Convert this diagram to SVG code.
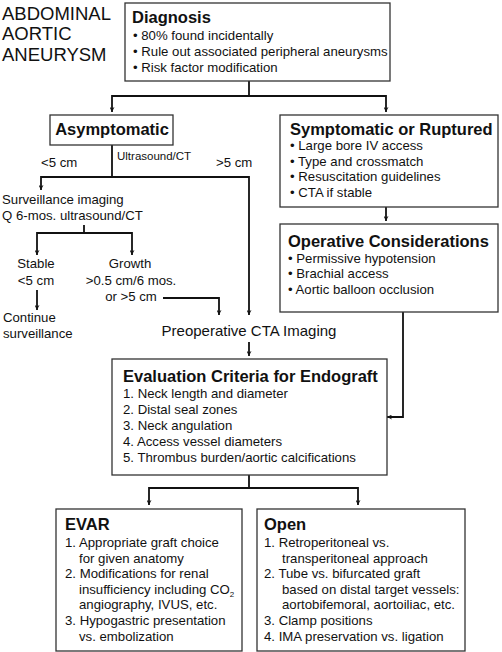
<svg xmlns="http://www.w3.org/2000/svg" width="502" height="652" viewBox="0 0 502 652">
<defs>
<marker id="ah" viewBox="0 0 10 10" refX="10" refY="5" markerWidth="5" markerHeight="5" orient="auto" markerUnits="userSpaceOnUse">
<path d="M0,0 L10,5 L0,10 L3,5 z" fill="#111"/>
</marker>
<style>
text{font-family:"Liberation Sans",Arial,sans-serif;fill:#111}
.box{fill:#fff;stroke:#333;stroke-width:1.3}
.t{font-weight:bold;font-size:16.5px}
.b{font-size:13.2px}
.s{font-size:11.5px}
.m{font-size:13.2px}
.big{font-size:18.5px}
.c{stroke:#111;stroke-width:1.8;fill:none}
.ca{stroke:#111;stroke-width:1.8;fill:none;marker-end:url(#ah)}
</style>
</defs>
<rect width="502" height="652" fill="#fff"/>
<g id="title">
<text class="big" x="2" y="20">ABDOMINAL</text>
<text class="big" x="2" y="40">AORTIC</text>
<text class="big" x="2" y="61">ANEURYSM</text>
</g>
<g id="connectors">
<path class="c" d="M249,81 V96 M112,96 H386"/>
<path class="ca" d="M112,95 V112"/>
<path class="ca" d="M386,95 V112"/>
<path class="ca" d="M386,207 V221"/>
<path class="c" d="M112,145 V177 M41,177 H249"/>
<path class="ca" d="M41,176 V190"/>
<path class="ca" d="M249,176 V315"/>
<path class="c" d="M84,225 V233 M37,233 H132"/>
<path class="ca" d="M37,232 V255"/>
<path class="ca" d="M132,232 V255"/>
<path class="ca" d="M37,290 V310"/>
<path class="ca" d="M163,298 H219 V315"/>
<path class="ca" d="M249,342 V356"/>
<path class="ca" d="M403,312 V417 H387"/>
<path class="c" d="M249,475 V488 M149,488 H358"/>
<path class="ca" d="M149,487 V505"/>
<path class="ca" d="M358,487 V505"/>
</g>
<g id="diagnosis">
<rect class="box" x="125" y="3" width="265" height="78"/>
<text class="t" x="132" y="23">Diagnosis</text>
<text class="b" x="133" y="40">• 80% found incidentally</text>
<text class="b" x="133" y="56">• Rule out associated peripheral aneurysms</text>
<text class="b" x="133" y="72">• Risk factor modification</text>
</g>
<g id="asymptomatic">
<rect class="box" x="50" y="115" width="123" height="30"/>
<text class="t" x="112" y="135" text-anchor="middle">Asymptomatic</text>
</g>
<g id="symptomatic">
<rect class="box" x="280" y="115" width="218" height="92"/>
<text class="t" x="290" y="135">Symptomatic or Ruptured</text>
<text class="b" x="290" y="150">• Large bore IV access</text>
<text class="b" x="290" y="166">• Type and crossmatch</text>
<text class="b" x="290" y="181">• Resuscitation guidelines</text>
<text class="b" x="290" y="197">• CTA if stable</text>
</g>
<g id="operative">
<rect class="box" x="280" y="224" width="218" height="88"/>
<text class="t" x="288" y="247">Operative Considerations</text>
<text class="b" x="288" y="263">• Permissive hypotension</text>
<text class="b" x="288" y="278">• Brachial access</text>
<text class="b" x="288" y="294">• Aortic balloon occlusion</text>
</g>
<g id="labels">
<text class="m" x="41" y="167">&lt;5 cm</text>
<text class="s" x="117" y="160">Ultrasound/CT</text>
<text class="m" x="216" y="167">&gt;5 cm</text>
</g>
<g id="surveillance">
<text class="m" x="2" y="204">Surveillance imaging</text>
<text class="m" x="2" y="220">Q 6-mos. ultrasound/CT</text>
</g>
<g id="stable">
<text class="m" x="36" y="268" text-anchor="middle">Stable</text>
<text class="m" x="36" y="285" text-anchor="middle">&lt;5 cm</text>
</g>
<g id="continue">
<text class="m" x="3" y="322">Continue</text>
<text class="m" x="3" y="338">surveillance</text>
</g>
<g id="growth">
<text class="m" x="130" y="268" text-anchor="middle">Growth</text>
<text class="m" x="131" y="285" text-anchor="middle">&gt;0.5 cm/6 mos.</text>
<text class="m" x="131" y="301" text-anchor="middle">or &gt;5 cm</text>
</g>
<g id="preop">
<text x="249" y="336" text-anchor="middle" font-size="15">Preoperative CTA Imaging</text>
</g>
<g id="evaluation">
<rect class="box" x="112" y="359" width="275" height="116"/>
<text class="t" x="123" y="382">Evaluation Criteria for Endograft</text>
<text class="b" x="123" y="398">1. Neck length and diameter</text>
<text class="b" x="123" y="414">2. Distal seal zones</text>
<text class="b" x="123" y="430">3. Neck angulation</text>
<text class="b" x="123" y="446">4. Access vessel diameters</text>
<text class="b" x="123" y="462">5. Thrombus burden/aortic calcifications</text>
</g>
<g id="evar">
<rect class="box" x="56" y="509" width="186" height="142"/>
<text class="t" x="65" y="530">EVAR</text>
<text class="b" x="65" y="547">1. Appropriate graft choice</text>
<text class="b" x="79" y="563">for given anatomy</text>
<text class="b" x="65" y="578">2. Modifications for renal</text>
<text class="b" x="79" y="594">insufficiency including CO<tspan font-size="8" dy="3">2</tspan></text>
<text class="b" x="79" y="609">angiography, IVUS, etc.</text>
<text class="b" x="65" y="625">3. Hypogastric presentation</text>
<text class="b" x="79" y="641">vs. embolization</text>
</g>
<g id="open">
<rect class="box" x="257" y="509" width="208" height="142"/>
<text class="t" x="264" y="530">Open</text>
<text class="b" x="264" y="547">1. Retroperitoneal vs.</text>
<text class="b" x="282" y="563">transperitoneal approach</text>
<text class="b" x="264" y="578">2. Tube vs. bifurcated graft</text>
<text class="b" x="282" y="594">based on distal target vessels:</text>
<text class="b" x="282" y="609">aortobifemoral, aortoiliac, etc.</text>
<text class="b" x="264" y="625">3. Clamp positions</text>
<text class="b" x="264" y="641">4. IMA preservation vs. ligation</text>
</g>
</svg>
